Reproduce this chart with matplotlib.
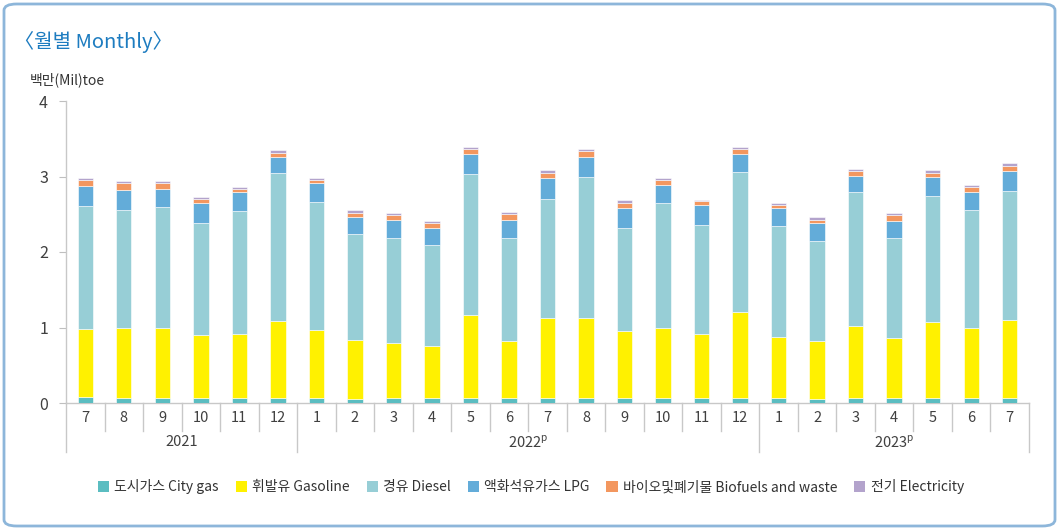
import matplotlib
matplotlib.use("Agg")
import matplotlib.pyplot as plt
from matplotlib.patches import FancyBboxPatch, Patch
from matplotlib.lines import Line2D
from matplotlib import transforms

plt.rcParams['font.family'] = ['Noto Sans CJK KR', 'DejaVu Sans']

# Monthly transport-sector energy consumption (million toe)
months = ["7", "8", "9", "10", "11", "12",
          "1", "2", "3", "4", "5", "6", "7", "8", "9", "10", "11", "12",
          "1", "2", "3", "4", "5", "6", "7"]
years = ["2021", "2022$^\\mathregular{p}$", "2023$^\\mathregular{p}$"]
year_counts = [6, 12, 7]

city_gas = [0.08, 0.07, 0.06, 0.06, 0.06, 0.07,
            0.06, 0.05, 0.06, 0.06, 0.07, 0.06, 0.07, 0.07, 0.06, 0.06, 0.06, 0.07,
            0.06, 0.05, 0.06, 0.06, 0.06, 0.06, 0.07]
gasoline = [0.90, 0.92, 0.94, 0.84, 0.86, 1.01,
            0.91, 0.78, 0.73, 0.69, 1.09, 0.76, 1.05, 1.05, 0.90, 0.94, 0.85, 1.14,
            0.82, 0.77, 0.96, 0.80, 1.01, 0.93, 1.03]
diesel = [1.63, 1.57, 1.59, 1.49, 1.62, 1.96,
          1.69, 1.41, 1.40, 1.34, 1.87, 1.36, 1.58, 1.88, 1.36, 1.65, 1.45, 1.85,
          1.47, 1.33, 1.77, 1.33, 1.67, 1.57, 1.71]
lpg = [0.27, 0.26, 0.24, 0.26, 0.25, 0.22,
       0.25, 0.23, 0.23, 0.23, 0.27, 0.24, 0.28, 0.26, 0.26, 0.24, 0.26, 0.24,
       0.23, 0.24, 0.22, 0.22, 0.25, 0.23, 0.26]
biofuels = [0.07, 0.09, 0.08, 0.05, 0.04, 0.05,
            0.04, 0.05, 0.07, 0.06, 0.06, 0.08, 0.07, 0.08, 0.07, 0.06, 0.05, 0.06,
            0.04, 0.04, 0.06, 0.08, 0.06, 0.07, 0.07]
electricity = [0.03, 0.03, 0.03, 0.03, 0.03, 0.04,
               0.03, 0.04, 0.02, 0.03, 0.03, 0.03, 0.03, 0.03, 0.04, 0.03, 0.02, 0.03,
               0.03, 0.03, 0.03, 0.02, 0.03, 0.03, 0.04]

series_names = ["도시가스 City gas", "휘발유 Gasoline", "경유 Diesel",
                "액화석유가스 LPG", "바이오및폐기물 Biofuels and waste", "전기 Electricity"]
series_values = [city_gas, gasoline, diesel, lpg, biofuels, electricity]
series_colors = ["#5bbdc1", "#fff100", "#97ced6", "#63acd9", "#f3975f", "#b3a3cc"]

W, H = 1059, 530
fig = plt.figure(figsize=(W / 100, H / 100), dpi=100)

def fy(py):
    return 1 - py / H

def fx(px):
    return px / W

# rounded frame around the whole panel
frame = FancyBboxPatch((fx(4), fy(526)), fx(1051), (522) / H,
                       boxstyle="round,pad=0,rounding_size=0.012",
                       transform=fig.transFigure, facecolor="none",
                       edgecolor="#8db6da", linewidth=2, zorder=0)
fig.patches.append(frame)

x_left, x_right = 66, 1029
y_zero, y_top = 403, 101
ax = fig.add_axes([fx(x_left), fy(y_zero), (x_right - x_left) / W, (y_zero - y_top) / H])
ax.set_facecolor("none")
ax.set_zorder(2)

n = len(months)
xs = list(range(n))
bottom = [0.0] * n
for name, vals, col in zip(series_names, series_values, series_colors):
    ax.bar(xs, vals, width=0.4, bottom=bottom, color=col, label=name,
           edgecolor="white", linewidth=0.4, zorder=3)
    bottom = [b + v for b, v in zip(bottom, vals)]

ax.set_xlim(-0.5, n - 0.5)
ax.set_ylim(0, 4)
ax.set_yticks([0, 1, 2, 3, 4])
ax.set_yticklabels(["0", "1", "2", "3", "4"])
ax.tick_params(axis="y", length=5, color="#bfbfbf", labelsize=11.5,
               labelcolor="#404040", pad=8)
ax.set_xticks([])
for s in ["top", "right"]:
    ax.spines[s].set_visible(False)
ax.spines["left"].set_color("#c8c8c8")
ax.spines["bottom"].set_color("#c8c8c8")
ax.spines["left"].set_linewidth(1)
ax.spines["bottom"].set_linewidth(1)

# category axis below the plot: months, years and separators
tr = transforms.blended_transform_factory(ax.transData, fig.transFigure)
boundaries = [sum(year_counts[:k]) for k in range(len(year_counts) + 1)]
for i in range(n + 1):
    xb = i - 0.5
    long = i in boundaries
    y_end = 452 if long else 431
    fig.add_artist(Line2D([xb, xb], [fy(y_zero), fy(y_end)], transform=tr,
                          color="#c8c8c8", linewidth=1))
for i, m in enumerate(months):
    fig.text(i, fy(418), m, transform=tr, ha="center", va="center",
             fontsize=10.5, color="#404040")
for k, yl in enumerate(years):
    center = (boundaries[k] + boundaries[k + 1] - 1) / 2
    fig.text(center, fy(442), yl, transform=tr, ha="center", va="center",
             fontsize=10.5, color="#404040")

fig.text(fx(14), fy(42), "〈월별 Monthly〉", fontsize=14.5, color="#1d7cc0",
         ha="left", va="center")
fig.text(fx(30), fy(80), "백만(Mil)toe", fontsize=10, color="#333333",
         ha="left", va="center")

handles = [Patch(facecolor=c, edgecolor="none") for c in series_colors]
fig.legend(handles, series_names, loc="center", bbox_to_anchor=(fx(531), fy(487)),
           ncol=6, frameon=False, fontsize=10, handlelength=0.8, handleheight=0.8,
           handletextpad=0.4, columnspacing=1.2, labelcolor="#333333")

fig.savefig("out.png", dpi=100)
